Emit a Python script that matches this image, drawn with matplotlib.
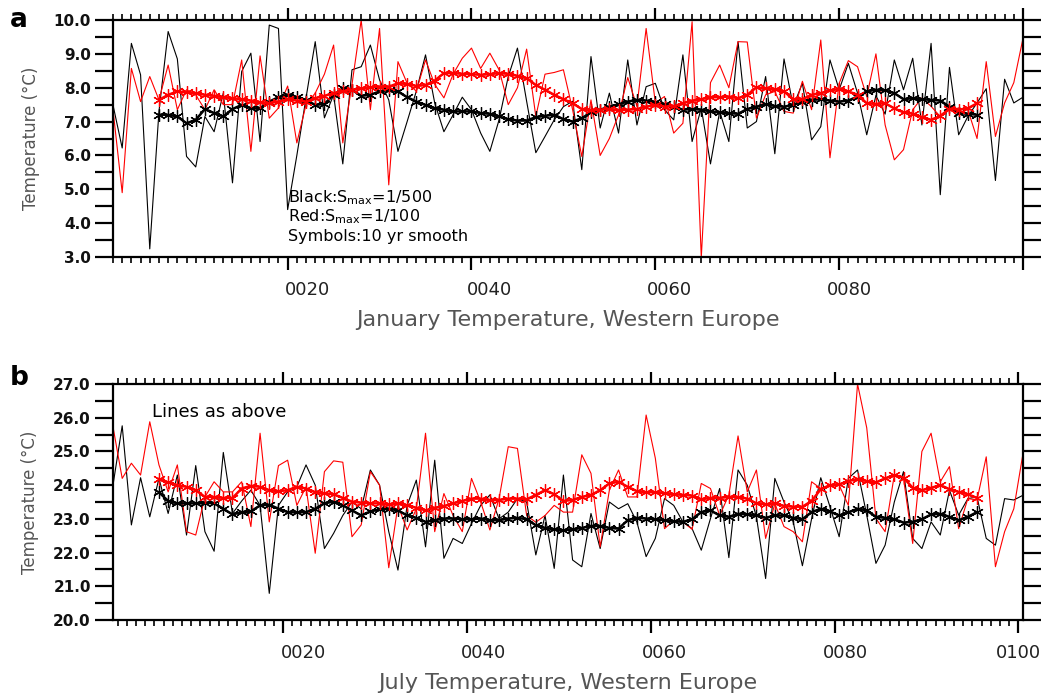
import numpy as np
import matplotlib
matplotlib.use("Agg")
import matplotlib.pyplot as plt
from matplotlib.ticker import MultipleLocator, FixedLocator
from matplotlib.transforms import ScaledTranslation

# ---------------- data ----------------
years = np.arange(1, 101)
smooth_years = np.arange(6, 96)

jan_black = [7.49, 6.22, 9.31, 8.38, 3.24, 7.30, 9.66, 8.85, 5.97, 5.66,
             7.15, 6.70, 7.84, 5.19, 8.48, 9.02, 6.41, 9.85, 9.75, 4.40,
             6.00, 7.70, 9.36, 7.11, 7.79, 5.75, 8.53, 8.62, 9.26, 8.23,
             7.64, 6.12, 7.00, 7.90, 8.97, 7.55, 6.70, 7.20, 7.72, 7.35,
             6.66, 6.12, 7.05, 8.33, 9.17, 7.60, 6.08, 6.56, 7.05, 7.44,
             7.60, 5.58, 8.92, 6.81, 7.84, 6.66, 8.82, 6.90, 8.03, 8.13,
             7.35, 7.05, 8.97, 6.41, 7.40, 5.75, 7.30, 6.41, 9.36, 6.81,
             7.00, 8.33, 6.05, 8.85, 7.45, 8.13, 6.46, 6.85, 8.82, 7.94,
             8.72, 7.84, 6.61, 7.77, 7.22, 8.82, 7.94, 8.87, 6.90, 9.31,
             4.84, 8.60, 6.61, 7.15, 7.55, 7.97, 5.26, 8.25, 7.55, 7.72]

jan_red = [7.35, 4.90, 8.57, 7.59, 8.33, 7.64, 8.67, 7.35, 7.94, 7.79,
           7.35, 7.94, 7.50, 7.50, 8.82, 6.12, 8.94, 7.10, 7.40, 8.05,
           6.37, 7.50, 7.84, 8.40, 9.26, 6.37, 8.10, 10.0, 7.35, 9.75,
           5.13, 8.77, 8.13, 7.90, 8.82, 8.10, 7.70, 8.40, 8.87, 9.17,
           8.57, 9.02, 8.53, 7.50, 8.00, 9.14, 7.15, 8.40, 8.45, 8.53,
           7.35, 5.97, 7.64, 6.00, 6.50, 7.20, 8.30, 7.45, 9.75, 7.55,
           7.74, 6.66, 6.95, 9.95, 2.98, 8.15, 8.67, 8.00, 9.36, 9.35,
           7.10, 7.79, 7.89, 7.30, 7.25, 8.19, 7.35, 9.41, 5.93, 8.13,
           8.80, 8.62, 7.74, 9.00, 6.90, 5.87, 6.17, 7.35, 7.70, 7.45,
           7.15, 7.35, 7.40, 7.35, 6.50, 8.77, 6.56, 7.55, 8.15, 9.46]

jan_black_smooth = [7.20, 7.20, 7.15, 6.95, 7.05, 7.37, 7.25, 7.15, 7.37, 7.49,
                    7.39, 7.39, 7.59, 7.72, 7.79, 7.72,
                    7.64, 7.49, 7.52, 7.79, 7.98, 7.94, 7.76, 7.79, 7.89, 7.94,
                    7.89, 7.72, 7.59, 7.49, 7.39, 7.35, 7.30, 7.30, 7.30, 7.25, 7.23,
                    7.15, 7.07, 7.03, 7.03, 7.13, 7.17, 7.20, 7.07, 7.00, 7.10,
                    7.27, 7.35, 7.44, 7.51, 7.59, 7.64, 7.62, 7.57, 7.51, 7.44,
                    7.35, 7.37, 7.35, 7.30, 7.27, 7.25, 7.23, 7.37, 7.44, 7.51,
                    7.46, 7.44, 7.49, 7.59, 7.64, 7.66, 7.62, 7.59, 7.62, 7.74, 7.89,
                    7.94, 7.92, 7.84, 7.66, 7.69, 7.66, 7.64, 7.62, 7.44, 7.25,
                    7.23, 7.20]

jan_red_smooth = [7.64, 7.79, 7.89, 7.86, 7.84, 7.79, 7.76, 7.72, 7.69, 7.66,
                  7.62, 7.57, 7.54, 7.59, 7.66, 7.62,
                  7.59, 7.69, 7.76, 7.84, 7.89, 7.94, 7.98, 8.01, 8.03, 8.03,
                  8.13, 8.11, 8.05, 8.08, 8.21, 8.43, 8.43, 8.41, 8.40, 8.38, 8.40,
                  8.43, 8.41, 8.35, 8.28, 8.08, 7.94, 7.79, 7.66, 7.54, 7.37,
                  7.33, 7.35, 7.37, 7.33, 7.35, 7.37, 7.44, 7.49, 7.44, 7.45,
                  7.54, 7.62, 7.66, 7.72, 7.72, 7.74, 7.69, 7.79, 8.01, 7.98,
                  7.96, 7.89, 7.66, 7.66, 7.79, 7.84, 7.92, 7.96, 7.89, 7.79, 7.54,
                  7.52, 7.54, 7.39, 7.27, 7.23, 7.13, 7.05, 7.17, 7.37, 7.35,
                  7.39, 7.54]

jul_black = [24.00, 25.76, 22.82, 24.22, 23.06, 24.20, 23.16, 24.30, 22.52, 24.58,
             22.62, 22.04, 24.97, 23.16, 23.53, 23.85, 23.40, 20.79, 23.40, 23.80,
             23.95, 24.60, 24.00, 22.12, 22.57, 23.10, 23.50, 23.30, 24.45, 24.00,
             22.62, 21.48, 23.40, 24.15, 22.17, 24.74, 21.83, 22.42, 22.27, 22.86,
             23.40, 23.71, 23.00, 23.20, 23.60, 23.50, 21.93, 23.10, 21.53, 24.30,
             21.78, 21.58, 23.16, 22.12, 23.50, 23.30, 23.45, 22.90, 21.88, 22.42,
             23.60, 23.40, 22.91, 22.71, 22.07, 23.01, 23.90, 21.85, 24.45, 24.00,
             23.06, 21.23, 24.20, 23.50, 22.91, 21.61, 23.00, 24.22, 23.36, 22.47,
             24.20, 24.45, 23.11, 21.68, 22.22, 23.50, 24.40, 22.42, 22.12, 22.91,
             22.52, 23.85, 23.11, 23.60, 23.65, 22.42, 22.22, 23.60, 23.56, 23.70]

jul_red = [25.73, 24.20, 24.65, 24.30, 25.88, 24.60, 23.80, 24.60, 22.62, 22.52,
           23.65, 24.10, 23.80, 23.80, 24.10, 22.77, 25.54, 22.91, 24.58, 24.74,
           23.40, 23.95, 21.98, 24.40, 24.72, 24.68, 22.47, 22.82, 24.40, 24.00,
           21.55, 23.40, 22.67, 23.30, 25.54, 22.62, 23.75, 23.10, 22.62, 24.20,
           23.50, 22.67, 23.60, 25.14, 25.09, 23.10, 22.90, 23.10, 23.40, 23.20,
           23.20, 24.90, 24.35, 22.17, 23.85, 24.45, 23.65, 23.65, 26.08, 24.80,
           22.71, 22.95, 22.91, 22.69, 24.05, 23.90, 23.10, 23.71, 25.46, 23.80,
           24.45, 22.42, 23.45, 22.77, 22.62, 22.32, 24.10, 23.90, 24.00, 24.00,
           23.40, 27.00, 25.70, 23.01, 22.62, 24.30, 24.20, 22.27, 25.00, 25.54,
           24.10, 24.55, 22.71, 23.60, 23.56, 24.84, 21.58, 22.62, 23.30, 24.94]

jul_black_smooth = [23.79, 23.53, 23.46, 23.46, 23.46, 23.48, 23.46, 23.30, 23.13, 23.20,
                    23.22, 23.40, 23.42, 23.30, 23.20, 23.19,
                    23.20, 23.30, 23.46, 23.51, 23.40, 23.25, 23.10, 23.22, 23.28, 23.30,
                    23.25, 23.10, 23.03, 22.91, 22.96, 23.01, 23.01, 22.99, 22.99, 23.01, 22.96,
                    22.96, 23.01, 23.03, 22.99, 22.81, 22.73, 22.69, 22.66, 22.69, 22.73,
                    22.79, 22.79, 22.73, 22.71, 22.96, 23.03, 23.01, 22.99, 22.96, 22.93,
                    22.91, 22.99, 23.20, 23.25, 23.10, 23.06, 23.15, 23.13, 23.10, 23.03,
                    23.10, 23.10, 23.03, 22.99, 23.20, 23.30, 23.22, 23.10, 23.19, 23.30, 23.25,
                    23.06, 23.03, 22.99, 22.89, 22.91, 22.99, 23.13, 23.15, 23.06, 22.96,
                    23.06, 23.20]

jul_red_smooth = [24.18, 24.08, 24.00, 23.95, 23.85, 23.65, 23.65, 23.62, 23.62, 23.90,
                  23.98, 23.95, 23.85, 23.82, 23.85, 23.95,
                  23.90, 23.79, 23.76, 23.73, 23.62, 23.51, 23.48, 23.46, 23.46, 23.43,
                  23.46, 23.40, 23.33, 23.25, 23.33, 23.38, 23.46, 23.53, 23.60, 23.60, 23.55,
                  23.56, 23.60, 23.60, 23.58, 23.71, 23.85, 23.73, 23.53, 23.56, 23.65,
                  23.71, 23.85, 24.05, 24.10, 23.95, 23.82, 23.79, 23.79, 23.76, 23.73,
                  23.71, 23.69, 23.58, 23.62, 23.62, 23.65, 23.65, 23.60, 23.46, 23.43,
                  23.46, 23.38, 23.36, 23.36, 23.53, 23.88, 24.00, 24.02, 24.12, 24.18, 24.12,
                  24.08, 24.20, 24.30, 24.22, 23.92, 23.85, 23.92, 24.00, 23.88, 23.80,
                  23.73, 23.62]

jan_xticks = [20, 40, 60, 80, 100]
jan_xticklabels = ["0020", "0040", "0060", "0080", ""]
jul_xticks = [20, 40, 60, 80, 100]
jul_xticklabels = ["0020", "0040", "0060", "0080", "0100"]
jul_offset = 0.5  # July values sit mid-year

# ---------------- figure ----------------
W, H = 1053, 694
fig = plt.figure(figsize=(W / 100, H / 100), dpi=100)


def ax_rect(l, t, r, b):
    return [l / W, 1 - b / H, (r - l) / W, (b - t) / H]


ax1 = fig.add_axes(ax_rect(113, 20, 1023, 257))
ax2 = fig.add_axes(ax_rect(113, 384, 1023, 620))

gray = "#555555"
star = (6, 2, 0)
FP = matplotlib.font_manager.FontProperties


def style(ax, ylo, yhi, xlo, xhi, xt, xtl, label_offsets_px, xlabel):
    ax.set_xlim(xlo, xhi)
    ax.set_ylim(ylo, yhi)
    ax.yaxis.set_major_locator(MultipleLocator(1.0))
    ax.yaxis.set_minor_locator(MultipleLocator(0.5))
    ax.yaxis.set_major_formatter(matplotlib.ticker.FormatStrFormatter("%.1f"))
    ax.xaxis.set_major_locator(FixedLocator(xt))
    ax.set_xticklabels(xtl)
    ax.xaxis.set_minor_locator(MultipleLocator(1))
    ax.tick_params(axis="y", which="both", direction="out", length=13,
                   width=1.6, left=True, right=True, labelleft=True, pad=3)
    ax.tick_params(axis="x", which="major", direction="out", length=9,
                   width=1.6, top=True, bottom=True, pad=8)
    ax.tick_params(axis="x", which="minor", direction="out", length=4.5,
                   width=1.2, top=True, bottom=True)
    for lab in ax.get_yticklabels():
        lab.set_fontproperties(FP(family="DejaVu Sans", weight="bold", size=11))
        lab.set_color("#111111")
    for lab, dx in zip(ax.get_xticklabels(), label_offsets_px):
        lab.set_fontproperties(FP(family="DejaVu Sans", size=13))
        lab.set_color("#222222")
        lab.set_transform(lab.get_transform() +
                          ScaledTranslation(dx / 100, 0, fig.dpi_scale_trans))
    for s in ax.spines.values():
        s.set_linewidth(1.6)
    ax.set_xlabel(xlabel, fontsize=16, color=gray, labelpad=8,
                  family="DejaVu Sans")
    ax.set_ylabel("Temperature (°C)", fontsize=12, color=gray,
                  family=["Liberation Sans Narrow", "DejaVu Sans"], labelpad=10)


# Panel a
ax1.plot(years, jan_black, color="black", lw=0.8, zorder=2)
ax1.plot(years, jan_red, color="red", lw=0.8, zorder=2)
ax1.plot(smooth_years, jan_black_smooth, color="black", lw=1.8, marker=star,
         ms=9, mew=0.9, zorder=3)
ax1.plot(smooth_years, jan_red_smooth, color="red", lw=1.8, marker=star,
         ms=9, mew=0.9, zorder=3)
style(ax1, 3.0, 10.0, 1, 100, jan_xticks, jan_xticklabels,
      [20, 18, 14, 10, 0], "January Temperature, Western Europe")

leg_kw = dict(fontsize=11.5, color="black", family="DejaVu Sans", va="center")
ax1.text(20.0, 4.76, r"Black:S$_{\mathrm{max}}$=1/500", **leg_kw)
ax1.text(20.0, 4.19, r"Red:S$_{\mathrm{max}}$=1/100", **leg_kw)
ax1.text(20.0, 3.60, "Symbols:10 yr smooth", **leg_kw)

# Panel b
xj = years + jul_offset
xs = smooth_years + jul_offset
ax2.plot(xj, jul_black, color="black", lw=0.8, zorder=2)
ax2.plot(xj, jul_red, color="red", lw=0.8, zorder=2)
ax2.plot(xs, jul_black_smooth, color="black", lw=1.8, marker=star,
         ms=9, mew=0.9, zorder=3)
ax2.plot(xs, jul_red_smooth, color="red", lw=1.8, marker=star,
         ms=9, mew=0.9, zorder=3)
style(ax2, 20.0, 27.0, 1.5, 100.5, jul_xticks, jul_xticklabels,
      [20, 17, 14, 11, 0], "July Temperature, Western Europe")
ax2.text(5.7, 26.17, "Lines as above", fontsize=13, family="DejaVu Sans",
         va="center")

fig.text(10 / W, 1 - 20 / H, "a", fontsize=19, fontweight="bold", va="center")
fig.text(10 / W, 1 - 378 / H, "b", fontsize=19, fontweight="bold", va="center")

fig.savefig("out.png", dpi=100)
